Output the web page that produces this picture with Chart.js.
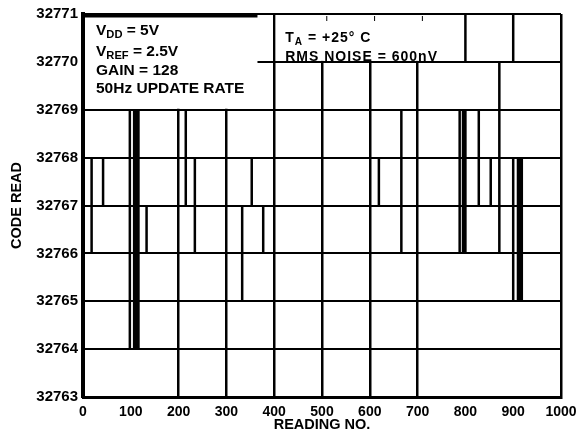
<!DOCTYPE html>
<html>
<head>
<meta charset="utf-8">
<script src="https://cdn.jsdelivr.net/npm/chart.js@4.4.1/dist/chart.umd.min.js"></script>
<style>
  html, body { margin: 0; padding: 0; background: #fff; }
  canvas { display: block; }
</style>
</head>
<body>
<canvas id="noiseChart" width="580" height="439"></canvas>
<script>
// reading numbers where the code leaves 32767, and the low / high code of that step
const spikeX    = [18, 42, 98, 107, 110, 113, 116, 133, 215, 234, 333, 353, 377, 619, 666, 788, 795, 798, 800, 828, 853, 871, 900, 910, 914, 918];
const spikeLow  = [32766, 32767, 32764, 32764, 32764, 32764, 32764, 32766, 32767, 32766, 32765, 32767, 32766, 32767, 32766, 32766, 32766, 32766, 32766, 32767, 32767, 32766, 32765, 32765, 32765, 32765];
const spikeHigh = [32768, 32768, 32769, 32769, 32769, 32769, 32769, 32767, 32769, 32768, 32767, 32768, 32767, 32768, 32769, 32769, 32769, 32769, 32769, 32769, 32768, 32770, 32768, 32768, 32768, 32768];

const xTicks = [0, 100, 200, 300, 400, 500, 600, 700, 800, 900, 1000];
const yTicks = [32763, 32764, 32765, 32766, 32767, 32768, 32769, 32770, 32771];
const xGridShown = [200, 300, 400, 500, 600, 700, 1000];

const FONT = '"Liberation Sans", Arial, sans-serif';
Chart.defaults.font.family = FONT;
Chart.defaults.color = '#000';

// vertical steps, broken up with nulls so each one is its own segment
const trace = [];
spikeX.forEach((x, i) => {
    trace.push({ x: x, y: spikeLow[i] }, { x: x, y: spikeHigh[i] }, { x: x, y: null });
});

// white note boxes in the top corner, like the datasheet figure
const noteBoxes = {
    id: 'noteBoxes',
    afterDatasetsDraw(chart) {
        const { ctx, chartArea: a, scales: { x, y } } = chart;
        ctx.save();

        const lx1 = x.getPixelForValue(365);
        const y69 = y.getPixelForValue(32769);
        const y70 = y.getPixelForValue(32770);
        ctx.fillStyle = '#fff';
        ctx.fillRect(a.left + 2, a.top + 1, lx1 - a.left - 2, y69 - a.top - 2);

        const rx0 = x.getPixelForValue(400), rx1 = x.getPixelForValue(800);
        ctx.fillRect(rx0 + 1.5, a.top + 1, rx1 - rx0 - 3, y70 - a.top - 2);

        ctx.fillStyle = '#000';
        ctx.fillRect(a.left, a.top - 1, lx1 - a.left, 4.5);

        ctx.strokeStyle = '#000';
        ctx.lineWidth = 2.5;
        [800, 900].forEach(v => {
            const px = x.getPixelForValue(v);
            ctx.beginPath();
            ctx.moveTo(px, a.top);
            ctx.lineTo(px, y70);
            ctx.stroke();
        });
        ctx.lineWidth = 1;
        [510, 610, 710].forEach(v => {
            const px = x.getPixelForValue(v);
            ctx.beginPath();
            ctx.moveTo(px, a.top + 2);
            ctx.lineTo(px, a.top + 7);
            ctx.stroke();
        });

        const write = (parts, x0, base, size, spacing) => {
            let cx = x0;
            parts.forEach(([txt, sub]) => {
                const fs = sub ? size * 0.72 : size;
                ctx.font = `bold ${fs}px ${FONT}`;
                ctx.letterSpacing = spacing + 'px';
                ctx.fillText(txt, cx, base + (sub ? 3 : 0));
                cx += ctx.measureText(txt).width;
            });
        };
        ctx.textBaseline = 'alphabetic';
        ctx.textAlign = 'left';
        const tx = a.left + 13;
        write([['V'], ['DD', 1], [' = 5V']], tx, 35, 15.5, 0);
        write([['V'], ['REF', 1], [' = 2.5V']], tx, 56, 15.5, 0);
        write([['GAIN = 128']], tx, 75, 15.5, 0);
        write([['50Hz UPDATE RATE']], tx, 93, 15.5, 0);

        const tx2 = rx0 + 11;
        write([['T'], ['A', 1], [' = +25° C']], tx2, 42, 14, 1);
        write([['RMS NOISE = 600nV']], tx2, y70 - 1, 14, 1);

        ctx.restore();
    }
};

new Chart(document.getElementById('noiseChart'), {
    type: 'line',
    data: {
        datasets: [{
            data: trace,
            borderColor: '#000',
            borderWidth: 2.5,
            borderCapStyle: 'butt',
            pointRadius: 0,
            spanGaps: false,
            tension: 0
        }]
    },
    options: {
        responsive: false,
        animation: false,
        devicePixelRatio: 1,
        layout: { padding: { top: 13, right: 19, left: 0, bottom: 0 } },
        plugins: { legend: { display: false }, tooltip: { enabled: false } },
        scales: {
            x: {
                type: 'linear',
                min: xTicks[0],
                max: xTicks[xTicks.length - 1],
                afterBuildTicks: s => { s.ticks = xTicks.map(v => ({ value: v })); },
                afterFit: s => { s.height = 42; s.paddingLeft = 0; s.paddingRight = 0; },
                ticks: { font: { size: 14, weight: 'bold' }, padding: 7, maxRotation: 0, callback: v => String(v) },
                grid: {
                    color: c => (c.tick && xGridShown.includes(c.tick.value)) ? '#000' : 'rgba(0,0,0,0)',
                    lineWidth: 2.5,
                    drawTicks: false
                },
                border: { display: true, color: '#000', width: 3 },
                title: { display: true, text: 'READING NO.', font: { size: 14.5, weight: 'bold' }, padding: { top: 0, bottom: 5 } }
            },
            y: {
                type: 'linear',
                min: yTicks[0],
                max: yTicks[yTicks.length - 1],
                afterBuildTicks: s => { s.ticks = yTicks.map(v => ({ value: v })); },
                afterFit: s => { s.width = 83; },
                ticks: { font: { size: 15, weight: 'bold' }, padding: 5, callback: v => String(v) },
                grid: { color: '#000', lineWidth: 2, drawTicks: false },
                border: { display: true, color: '#000', width: 4 },
                title: { display: true, text: 'CODE READ', font: { size: 14.5, weight: 'bold' }, padding: { top: 8, bottom: 0 } }
            }
        }
    },
    plugins: [noteBoxes]
});
</script>
</body>
</html>
